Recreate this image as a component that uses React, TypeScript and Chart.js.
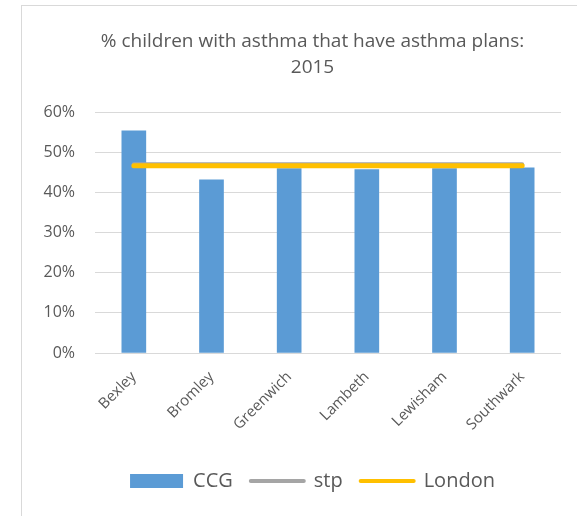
import { useEffect, useRef } from "react";
import { Chart, registerables } from "chart.js";

Chart.register(...registerables);

const titleLines = ["% children with asthma that have asthma plans:", "2015"];
const categories = ["Bexley", "Bromley", "Greenwich", "Lambeth", "Lewisham", "Southwark"];
const ccgValues = [55.3, 43.1, 45.9, 45.7, 45.9, 46.1];
const stpValues = [47.0, 47.0, 47.0, 47.0, 47.0, 47.0];
const londonValues = [46.6, 46.6, 46.6, 46.6, 46.6, 46.6];
const yMin = 0;
const yMax = 60;
const yStep = 10;

const BLUE = "#5B9BD5";
const GRAY = "#A5A5A5";
const GOLD = "#FFC000";
const TEXT = "#595959";
const GRID = "#D9D9D9";
const FONT = "'Open Sans', 'Noto Sans', sans-serif";

export default function App() {
  const ref = useRef<HTMLCanvasElement | null>(null);

  useEffect(() => {
    if (!ref.current) return;
    const chart = new Chart(ref.current, {
      type: "bar",
      data: {
        labels: categories,
        datasets: [
          {
            type: "bar",
            label: "CCG",
            data: ccgValues,
            backgroundColor: BLUE,
            borderWidth: 0,
            barThickness: 24,
            order: 3,
          },
          {
            type: "line",
            label: "stp",
            data: stpValues,
            borderColor: GRAY,
            backgroundColor: GRAY,
            borderWidth: 4,
            borderCapStyle: "round",
            pointRadius: 0,
            order: 2,
          },
          {
            type: "line",
            label: "London",
            data: londonValues,
            borderColor: GOLD,
            backgroundColor: GOLD,
            borderWidth: 5,
            borderCapStyle: "round",
            pointRadius: 0,
            order: 1,
          },
        ] as any,
      },
      options: {
        animation: false,
        responsive: false,
        maintainAspectRatio: false,
        layout: { padding: { left: 0, right: 0, top: 0, bottom: 15 } },
        plugins: {
          tooltip: { enabled: false },
          title: {
            display: true,
            text: titleLines,
            color: TEXT,
            font: { family: FONT, size: 19, weight: "normal", lineHeight: 1.37 },
            padding: { top: 29, bottom: 31 },
          },
          legend: {
            display: true,
            position: "bottom",
            labels: {
              color: TEXT,
              font: { family: FONT, size: 20 },
              usePointStyle: true,
              pointStyleWidth: 53,
              boxHeight: 14,
              padding: 18,
              generateLabels: (c: any) => {
                const ds = c.data.datasets;
                return ds.map((d: any, i: number) => {
                  if (d.type === "bar") {
                    return {
                      text: d.label,
                      fillStyle: d.backgroundColor,
                      strokeStyle: d.backgroundColor,
                      lineWidth: 0,
                      pointStyle: "rect",
                      fontColor: TEXT,
                      datasetIndex: i,
                      hidden: false,
                    };
                  }
                  return {
                    text: d.label,
                    fillStyle: d.borderColor,
                    strokeStyle: d.borderColor,
                    lineWidth: 4,
                    lineCap: "round",
                    pointStyle: "line",
                    fontColor: TEXT,
                    datasetIndex: i,
                    hidden: false,
                  };
                });
              },
            },
          },
        },
        scales: {
          x: {
            grid: { display: false, drawTicks: false },
            border: { display: false },
            ticks: {
              color: TEXT,
              font: { family: FONT, size: 15 },
              minRotation: 45,
              maxRotation: 45,
              padding: 15,
            },
            afterFit: (s: any) => {
              s.height = 100;
            },
          },
          y: {
            min: yMin,
            max: yMax,
            grid: { color: GRID, lineWidth: 1, drawTicks: false },
            border: { display: false },
            ticks: {
              stepSize: yStep,
              color: TEXT,
              font: { family: FONT, size: 16 },
              padding: 20,
              callback: (v: any) => `${v}%`,
            },
            afterFit: (s: any) => {
              s.width = 95;
            },
          },
          yR: {
            position: "right",
            display: true,
            grid: { display: false, drawTicks: false },
            border: { display: false },
            ticks: { display: false },
            afterFit: (s: any) => {
              s.width = 64;
            },
          },
        },
      } as any,
    });
    return () => chart.destroy();
  }, []);

  return (
    <div
      style={{
        position: "absolute",
        left: 0,
        top: 0,
        width: 577,
        height: 516,
        overflow: "hidden",
        background: "#fff",
      }}
    >
      <div
        style={{
          position: "absolute",
          left: 21,
          top: 5,
          width: 700,
          height: 700,
          borderLeft: `1px solid ${GRID}`,
          borderTop: `1px solid ${GRID}`,
        }}
      />
      <canvas
        ref={ref}
        width={625}
        height={516}
        style={{ position: "absolute", left: 0, top: 0, width: 625, height: 516 }}
      />
    </div>
  );
}
